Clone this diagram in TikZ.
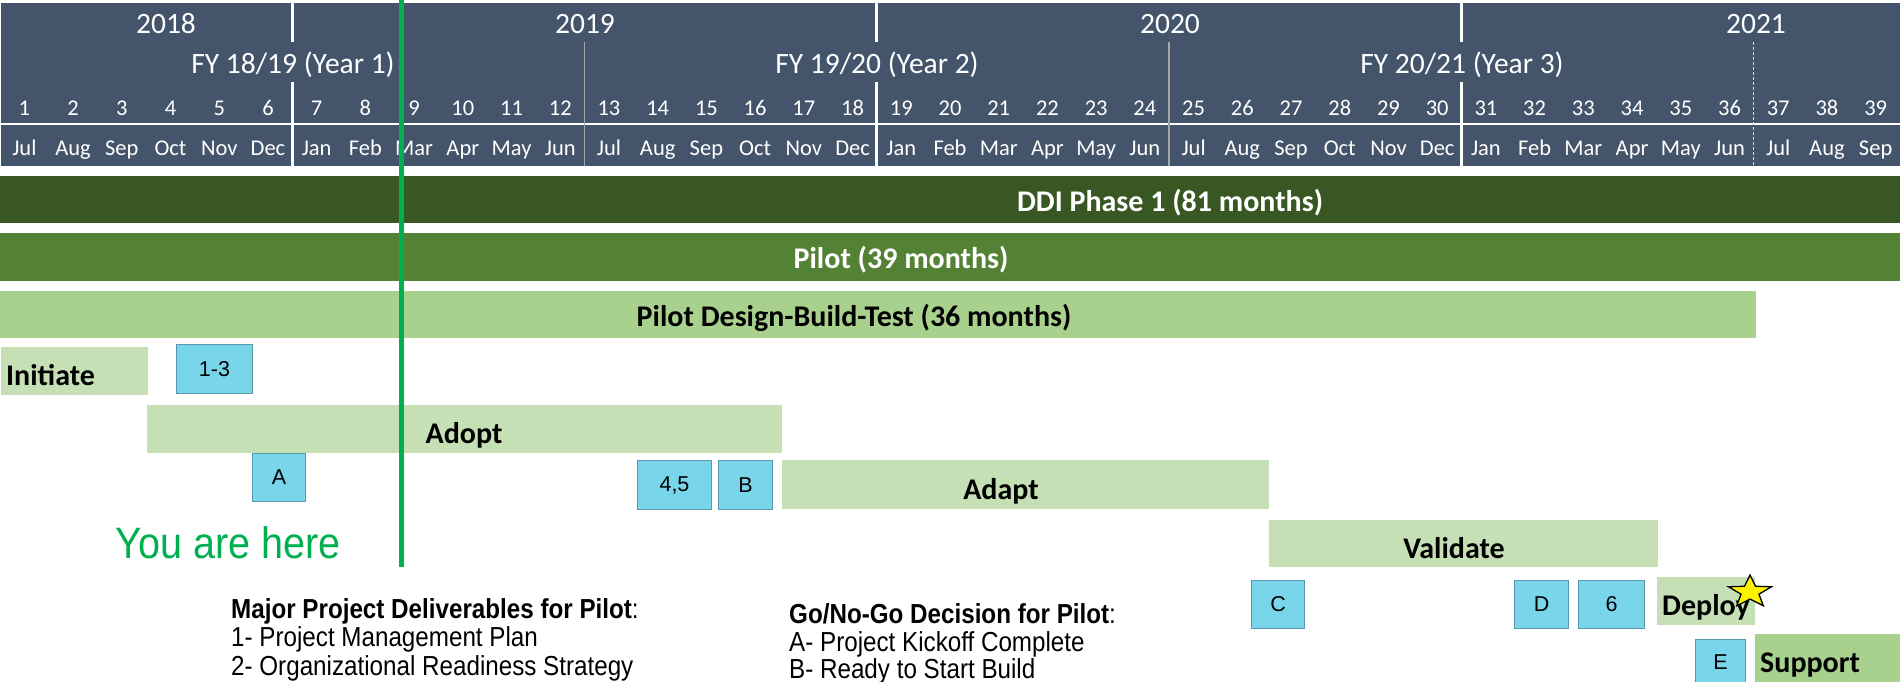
\documentclass[tikz,border=0pt]{standalone}
\usepackage{fontspec}
\setmainfont{Carlito}
\newfontfamily\narrow[FakeStretch=0.88]{Liberation Sans}
\newfontfamily\youfont[FakeStretch=0.9]{Liberation Sans}
\newfontfamily\boxfont{Liberation Sans}
\usetikzlibrary{shapes.geometric}
\definecolor{hdr}{HTML}{44546A}
\definecolor{ddi}{HTML}{385723}
\definecolor{pilot}{HTML}{548235}
\definecolor{dbt}{HTML}{A9D18E}
\definecolor{phase}{HTML}{C5E0B4}
\definecolor{boxfill}{HTML}{78D5EA}
\definecolor{boxline}{HTML}{5A98B0}
\definecolor{youg}{HTML}{00B050}
\definecolor{fyline}{HTML}{A6A6A6}
\begin{document}
\begin{tikzpicture}[x=1pt,y=-1pt,
  bar/.style={anchor=north west, inner sep=0pt, outer sep=0pt, draw=none},
  yeartxt/.style={text=white, inner sep=0pt, anchor=base, font=\fontsize{29.5}{30}\selectfont},
  coltxt/.style={text=white, inner sep=0pt, anchor=base, font=\fontsize{22.5}{23}\selectfont},
  bartxt/.style={inner sep=0pt, anchor=base, font=\bfseries\fontsize{30}{31}\selectfont},
  ms/.style={draw=boxline, line width=1pt, fill=boxfill, inner sep=0pt, anchor=north west, font=\boxfont\fontsize{21.5}{22}\selectfont},
  legend/.style={inner sep=0pt, anchor=base west, font=\narrow\fontsize{27.5}{28}\selectfont},
  yearsep/.style={white, line width=3pt},
  fysep/.style={fyline, line width=1.5pt}]

\useasboundingbox (0,0) rectangle (1900,682);

% ---------- header ----------
\node[bar, fill=hdr, minimum width=1899pt, minimum height=163pt] (hdr) at (1,3) {};
\coordinate (hl1) at (1,124);
\coordinate (hl2) at (1900,124);
\draw[white, line width=1.5pt] (hl1) -- (hl2);

\foreach \x [count=\k] in {292.3,876.9,1461.5} {
  \coordinate (ys\k a) at (\x,3);
  \coordinate (ys\k b) at (\x,42);
  \coordinate (ys\k c) at (\x,82);
  \coordinate (ys\k d) at (\x,166);
  \draw[yearsep] (ys\k a) -- (ys\k b);
  \draw[yearsep] (ys\k c) -- (ys\k d);
}
\foreach \x [count=\k] in {584.6,1169.2} {
  \coordinate (fs\k a) at (\x,42);
  \coordinate (fs\k b) at (\x,166);
  \draw[fysep] (fs\k a) -- (fs\k b);
}
\coordinate (fs3a) at (1753.8,42);
\coordinate (fs3b) at (1753.8,166);
\draw[white!75!gray, line width=1.2pt, dash pattern=on 3pt off 2pt] (fs3a) -- (fs3b);

\node[yeartxt] (y2018) at (166,34) {2018};
\node[yeartxt] (y2019) at (585,34) {2019};
\node[yeartxt] (y2020) at (1170,34) {2020};
\node[yeartxt] (y2021) at (1756,34) {2021};

\node[yeartxt] (fy1) at (293,74) {FY 18/19 (Year 1)};
\node[yeartxt] (fy2) at (877,74) {FY 19/20 (Year 2)};
\node[yeartxt] (fy3) at (1462,74) {FY 20/21 (Year 3)};

\foreach \i in {1,...,39} {
  \node[coltxt] (n\i) at ({(\i-0.5)*48.718},116) {\i};
}
\foreach \m [count=\i] in {Jul,Aug,Sep,Oct,Nov,Dec,Jan,Feb,Mar,Apr,May,Jun,Jul,Aug,Sep,Oct,Nov,Dec,Jan,Feb,Mar,Apr,May,Jun,Jul,Aug,Sep,Oct,Nov,Dec,Jan,Feb,Mar,Apr,May,Jun,Jul,Aug,Sep} {
  \node[coltxt] (mo\i) at ({(\i-0.5)*48.718},156) {\m};
}

% ---------- bars ----------
\node[bar, fill=ddi, minimum width=1900pt, minimum height=47pt] (ddi) at (0,176) {};
\node[bartxt, text=white] (ddit) at (1170,211) {DDI Phase 1 (81 months)};

\node[bar, fill=pilot, minimum width=1900pt, minimum height=48pt] (pilot) at (0,233) {};
\node[bartxt, text=white] (pilott) at (901,268) {Pilot (39 months)};

\node[bar, fill=dbt, minimum width=1756pt, minimum height=47pt] (dbt) at (0,291) {};
\node[bartxt] (dbtt) at (854,326) {Pilot Design-Build-Test (36 months)};

\node[bar, fill=phase, minimum width=147pt, minimum height=48pt] (init) at (1,347) {};
\node[bartxt, anchor=base west] (initt) at (6,385) {Initiate};

\node[bar, fill=phase, minimum width=635pt, minimum height=48pt] (adopt) at (147,405) {};
\node[bartxt] (adoptt) at (464,443) {Adopt};

\node[bar, fill=phase, minimum width=487pt, minimum height=49pt] (adapt) at (782,460) {};
\node[bartxt] (adaptt) at (1001,499) {Adapt};

\node[bar, fill=phase, minimum width=389pt, minimum height=47pt] (valid) at (1269,520) {};
\node[bartxt] (validt) at (1454,558) {Validate};

\node[bar, fill=phase, minimum width=98pt, minimum height=48pt] (deploy) at (1657,577) {};
\node[bartxt, anchor=base west] (deployt) at (1662,615) {Deploy};

\node[bar, fill=dbt, minimum width=145pt, minimum height=49pt] (support) at (1755,634) {};
\node[bartxt, anchor=base west] (supportt) at (1760,672) {Support};

% ---------- milestone boxes ----------
\node[ms, minimum width=76pt, minimum height=49pt] (m13) at (176,344) {1-3};
\node[ms, minimum width=53pt, minimum height=48pt] (mA) at (252,453) {A};
\node[ms, minimum width=74pt, minimum height=49pt] (m45) at (637,460) {4,5};
\node[ms, minimum width=54pt, minimum height=49pt] (mB) at (718,460) {B};
\node[ms, minimum width=53pt, minimum height=48pt] (mC) at (1251,580) {C};
\node[ms, minimum width=54pt, minimum height=48pt] (mD) at (1514,580) {D};
\node[ms, minimum width=66pt, minimum height=48pt] (m6) at (1578,580) {6};
\node[ms, minimum width=50pt, minimum height=46pt] (mE) at (1695,639) {E};

% ---------- star ----------
\begin{scope}[shift={(1750,592)}, xscale=1.33]
  \node[star, star points=5, star point ratio=2.4, minimum size=34pt, inner sep=0pt,
        fill=yellow, draw=black, line width=1.3pt, transform shape] (star) at (0,0) {};
\end{scope}

% ---------- you are here ----------
\coordinate (g1) at (401,0);
\coordinate (g2) at (401,567);
\draw[youg, line width=5pt] (g1) -- (g2);
\node[inner sep=0pt, anchor=base west, text=youg, font=\youfont\fontsize{44}{45}\selectfont] (here) at (115,558) {You are here};

% ---------- legends ----------
\node[legend] (l1) at (231,618) {\bfseries Major Project Deliverables for Pilot\mdseries:};
\node[legend] (l2) at (231,646) {1- Project Management Plan};
\node[legend] (l3) at (231,675) {2- Organizational Readiness Strategy};

\node[legend] (g1t) at (789,623) {\bfseries Go/No-Go Decision for Pilot\mdseries:};
\node[legend] (g2t) at (789,651) {A- Project Kickoff Complete};
\node[legend] (g3t) at (789,678) {B- Ready to Start Build};
\end{tikzpicture}
\end{document}
